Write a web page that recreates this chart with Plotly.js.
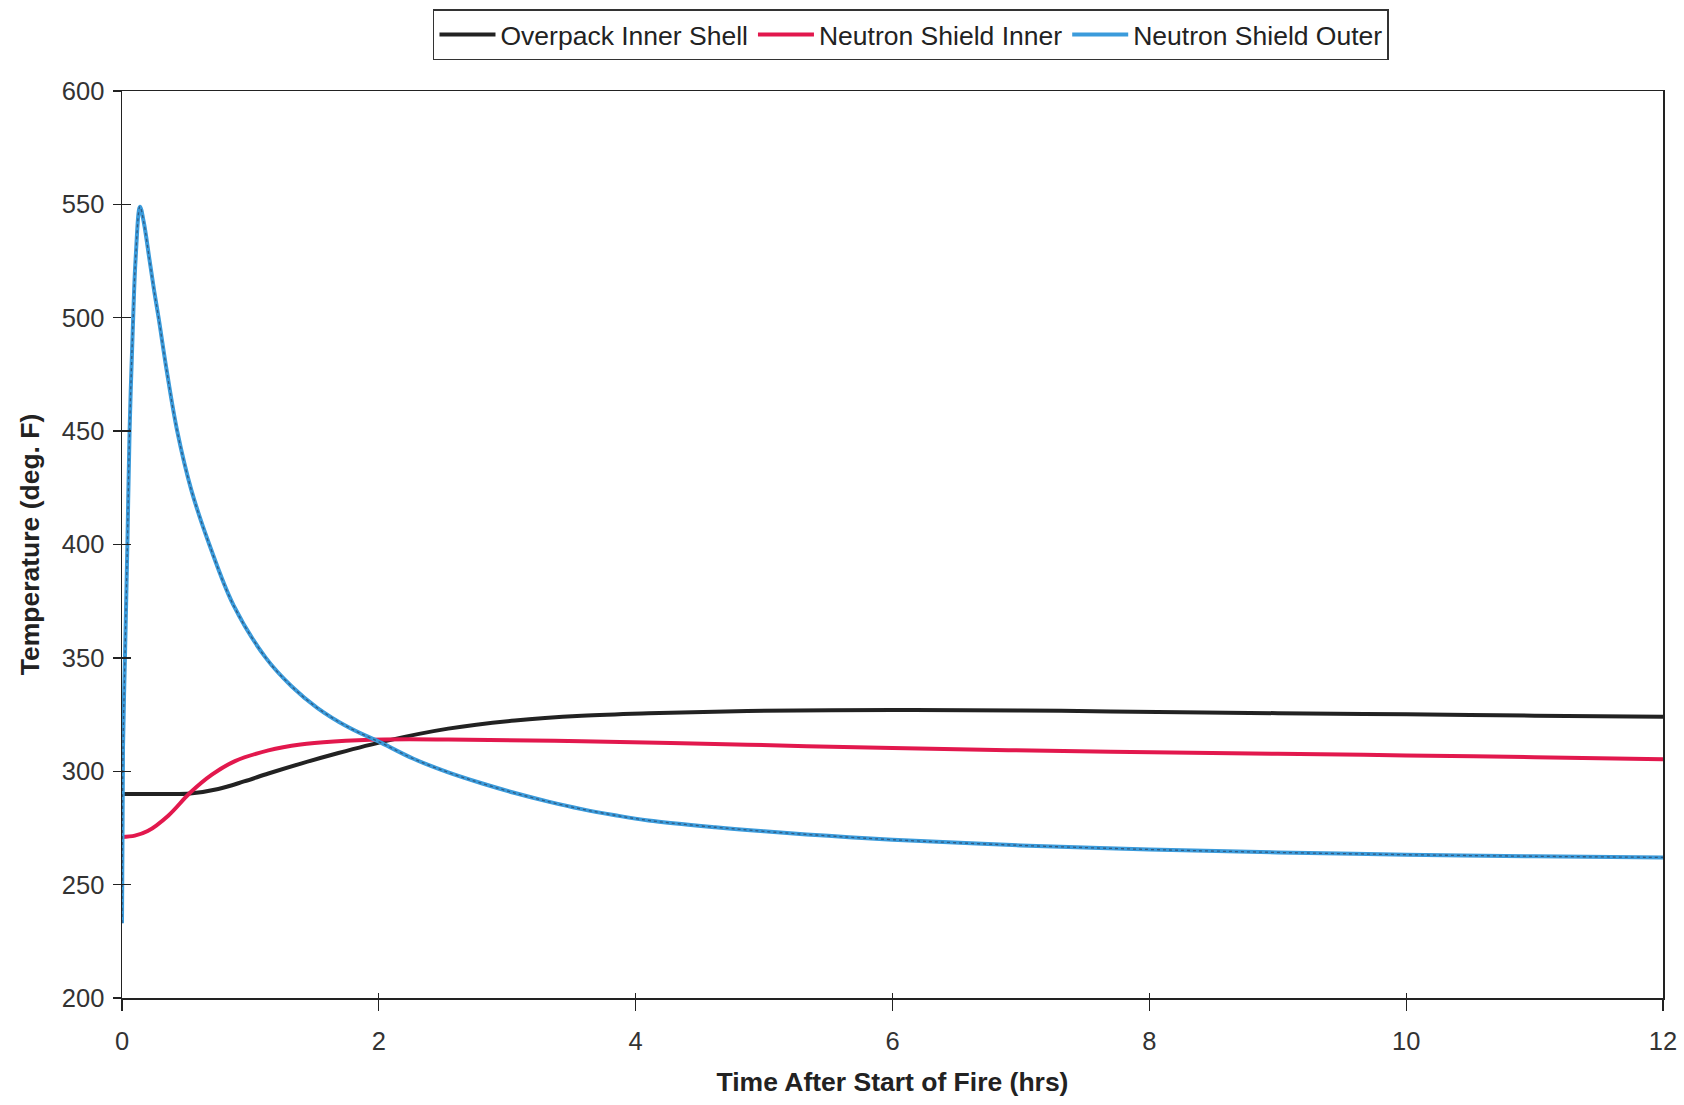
<!DOCTYPE html>
<html>
<head>
<meta charset="utf-8">
<script src="https://cdn.plot.ly/plotly-3.0.1.min.js"></script>
<style>
  html, body { margin: 0; padding: 0; background: #ffffff; }
  #chart { width: 1684px; height: 1105px; }
</style>
</head>
<body>
<div id="chart"></div>
<script>
// Time after start of fire (hrs) and temperatures (deg. F)
const overpackTime = [0, 0.3, 0.53, 0.75, 0.95, 1.14, 1.4, 1.65, 2.05, 2.54, 3.06, 3.58, 4.1, 4.87, 6, 7, 7.7, 9, 10, 11, 12];
const overpackTemp = [290, 290, 290.2, 292.2, 295.5, 299, 303.5, 307.5, 313.3, 318.8, 322.4, 324.5, 325.6, 326.6, 327, 326.8, 326.4, 325.6, 325.1, 324.5, 324];

const nsInnerTime = [0, 0.1, 0.2, 0.36, 0.53, 0.7, 0.88, 1.14, 1.39, 1.65, 2.04, 2.54, 3.58, 4.87, 6, 7.7, 9, 10, 11, 12];
const nsInnerTemp = [271, 271.6, 273.6, 280.4, 290.5, 298.5, 304.5, 309.2, 311.8, 313.1, 314, 314, 313.2, 311.7, 310.2, 308.6, 307.7, 307, 306.2, 305.3];

const nsOuterTime = [0, 0.008, 0.023, 0.042, 0.059, 0.087, 0.106, 0.14, 0.17, 0.213, 0.25, 0.285, 0.35, 0.43, 0.54, 0.68, 0.87, 1.12, 1.32, 1.52, 1.76, 2.02, 2.27, 2.54, 2.8, 3.06, 3.32, 3.58, 3.84, 4.1, 4.62, 5, 5.5, 6, 7, 8, 9, 10, 11, 12];
const nsOuterTemp = [233, 311, 350, 400, 450, 500, 526, 549, 542, 526, 512, 500, 476, 450, 424, 400, 373, 350, 337.5, 328, 319.5, 312.5, 305.5, 299.5, 294.7, 290.4, 286.6, 283.3, 280.6, 278.3, 275.3, 273.5, 271.5, 269.8, 267.3, 265.5, 264.2, 263.2, 262.5, 262];

const seriesNames = ["Overpack Inner Shell", "Neutron Shield Inner", "Neutron Shield Outer"];
const xTickVals = [0, 2, 4, 6, 8, 10, 12];
const yTickVals = [200, 250, 300, 350, 400, 450, 500, 550, 600];

const FONT = "Liberation Sans, Arial, Helvetica, sans-serif";

const traces = [
  {
    x: overpackTime, y: overpackTemp, name: seriesNames[0], type: "scatter", mode: "lines",
    line: { color: "#222222", width: 4, shape: "spline", smoothing: 1 }
  },
  {
    x: nsInnerTime, y: nsInnerTemp, name: seriesNames[1], type: "scatter", mode: "lines",
    line: { color: "#e2184d", width: 4, shape: "spline", smoothing: 1 }
  },
  {
    x: nsOuterTime, y: nsOuterTemp, name: seriesNames[2], type: "scatter", mode: "lines",
    line: { color: "#3b9bdb", width: 4, shape: "spline", smoothing: 1 }
  },
  {
    x: nsOuterTime, y: nsOuterTemp, name: seriesNames[2], type: "scatter", mode: "lines",
    showlegend: false, hoverinfo: "skip",
    line: { color: "rgba(40,40,60,0.55)", width: 1.3, dash: "dot", shape: "spline", smoothing: 1 }
  },
  // empty trace to carry the inner half of the crossing tick marks
  { x: [], y: [], xaxis: "x2", yaxis: "y2", type: "scatter", mode: "lines", showlegend: false, hoverinfo: "skip" }
];

const layout = {
  width: 1684, height: 1105,
  paper_bgcolor: "#ffffff", plot_bgcolor: "#ffffff",
  margin: { l: 122, r: 21, t: 91, b: 107, autoexpand: false },
  font: { family: FONT, size: 25, color: "#2a2a2a" },
  showlegend: true,
  legend: {
    orientation: "h", x: 0.512, xanchor: "center", y: 1.09, yanchor: "top",
    bgcolor: "#ffffff", bordercolor: "#333333", borderwidth: 1.5,
    font: { family: FONT, size: 26.5, color: "#222222" },
    itemwidth: 56, tracegroupgap: 0, traceorder: "normal"
  },
  xaxis: {
    range: [0, 12], tickvals: xTickVals, ticktext: xTickVals.map(String),
    ticks: "outside", ticklen: 11, tickwidth: 1.3, tickcolor: "#222",
    showline: true, linecolor: "#222222", linewidth: 1.5, mirror: true,
    showgrid: false, zeroline: false, ticklabelstandoff: 9,
    tickfont: { family: FONT, size: 25.5, color: "#333333" },
    title: { text: "Time After Start of Fire (hrs)", standoff: 18,
             font: { family: FONT, size: 26.5, color: "#222222", weight: "bold" } }
  },
  yaxis: {
    range: [200, 600], tickvals: yTickVals, ticktext: yTickVals.map(String),
    ticks: "outside", ticklen: 8, tickwidth: 1.3, tickcolor: "#222",
    showline: true, linecolor: "#222222", linewidth: 1.5, mirror: true,
    showgrid: false, zeroline: false, ticklabelstandoff: 3,
    tickfont: { family: FONT, size: 25.5, color: "#333333" },
    title: { text: "Temperature (deg. F)", standoff: 14,
             font: { family: FONT, size: 26.5, color: "#222222", weight: "bold" } }
  },
  xaxis2: {
    overlaying: "x", anchor: "y2", range: [0, 12], tickvals: xTickVals,
    ticks: "inside", ticklen: 5, tickwidth: 1.3, tickcolor: "#222",
    showticklabels: false, showline: false, showgrid: false, zeroline: false
  },
  yaxis2: {
    overlaying: "y", anchor: "x2", side: "left", range: [200, 600], tickvals: yTickVals,
    ticks: "inside", ticklen: 9, tickwidth: 1.3, tickcolor: "#222",
    showticklabels: false, showline: false, showgrid: false, zeroline: false
  }
};

Plotly.newPlot("chart", traces, layout, { displayModeBar: false, staticPlot: true });
</script>
</body>
</html>
